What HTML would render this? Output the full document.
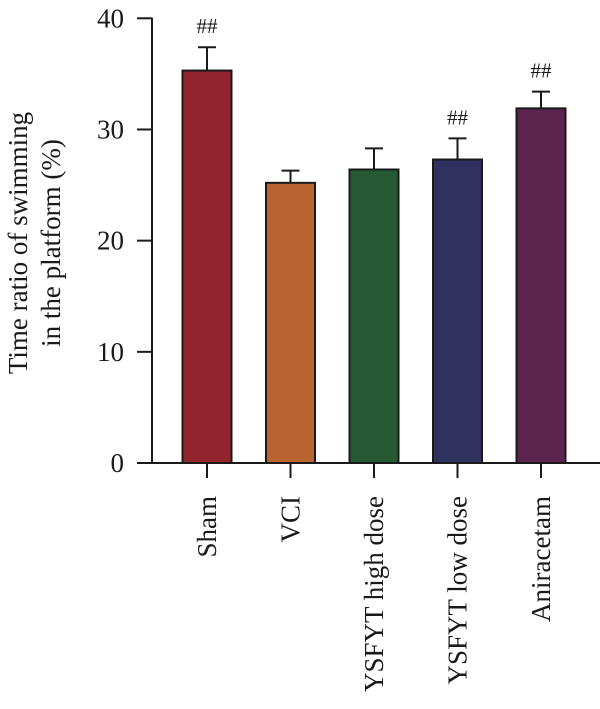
<!DOCTYPE html>
<html><head><meta charset="utf-8"><style>
html,body{margin:0;padding:0;background:#fff}
svg{display:block;font-family:"Liberation Serif",serif}
</style></head><body>
<svg width="600" height="709" viewBox="0 0 600 709" id="chart">
<g id="ytitle" font-size="27" fill="#1a1a1a" text-anchor="middle">
<text transform="translate(27,243) rotate(-90)">Time ratio of swimming</text>
<text transform="translate(60,243) rotate(-90)">in the platform (%)</text>
</g>
</svg>
<script>
const categories=["Sham","VCI","YSFYT high dose","YSFYT low dose","Aniracetam"];
const values=[35.3,25.2,26.4,27.3,31.9];
const errors=[2.1,1.1,1.9,1.9,1.5];
const marks=["##","","","##","##"];
const colors=["#92252e","#b86532","#255a34","#30315e","#5c2550"];
const yTicks=[0,10,20,30,40];
const svg=document.getElementById('chart');
const NS="http://www.w3.org/2000/svg";
const x0=152,y0=463,yTop=18.3,yMax=40;
const step=83.5,first=207,bw=49;
function y(v){return y0-(v/yMax)*(y0-yTop);}
function xc(i){return first+i*step;}
function el(t,a,p){const e=document.createElementNS(NS,t);for(const k in a)e.setAttribute(k,a[k]);(p||svg).appendChild(e);return e;}
// axes
let ya=el('line',{x1:x0,y1:yTop-0.5,x2:x0,y2:y0+1,stroke:'#1a1a1a','stroke-width':2});


yTicks.forEach(t=>{
  let l=el('line',{x1:x0-15,y1:y(t),x2:x0,y2:y(t),stroke:'#1a1a1a','stroke-width':2});
  
  
  let tx=el('text',{x:x0-28,y:y(t)+9,'font-size':27,'text-anchor':'end',fill:'#1a1a1a'});
  tx.textContent=t;
  
  
});
categories.forEach((c,i)=>{
  const cx=xc(i),v=values[i],e=errors[i];
  let el1=el('line',{x1:cx,y1:y(v),x2:cx,y2:y(v+e),stroke:'#1a1a1a','stroke-width':2});
  
  
  let cap=el('line',{x1:cx-9,y1:y(v+e),x2:cx+9,y2:y(v+e),stroke:'#1a1a1a','stroke-width':2});
  
  
  let b=el('rect',{x:cx-bw/2,y:y(v),width:bw,height:y0-y(v),fill:colors[i],stroke:'#1a1a1a','stroke-width':2});
  
  
  if(marks[i]){
    let m=el('text',{x:cx,y:y(v+e)-14,'font-size':21,'text-anchor':'middle',fill:'#1a1a1a'});
    m.textContent=marks[i];
    
    
  }
  let tk=el('line',{x1:cx,y1:y0,x2:cx,y2:y0+15,stroke:'#1a1a1a','stroke-width':2});
  
  
  let lb=el('text',{transform:`translate(${cx+9},${y0+33}) rotate(-90)`,'font-size':27,'text-anchor':'end',fill:'#1a1a1a'});
  lb.textContent=c;
  
  
});
let xa=el('line',{x1:x0-15,y1:y0,x2:600,y2:y0,stroke:'#1a1a1a','stroke-width':2});


</script>
</body></html>
